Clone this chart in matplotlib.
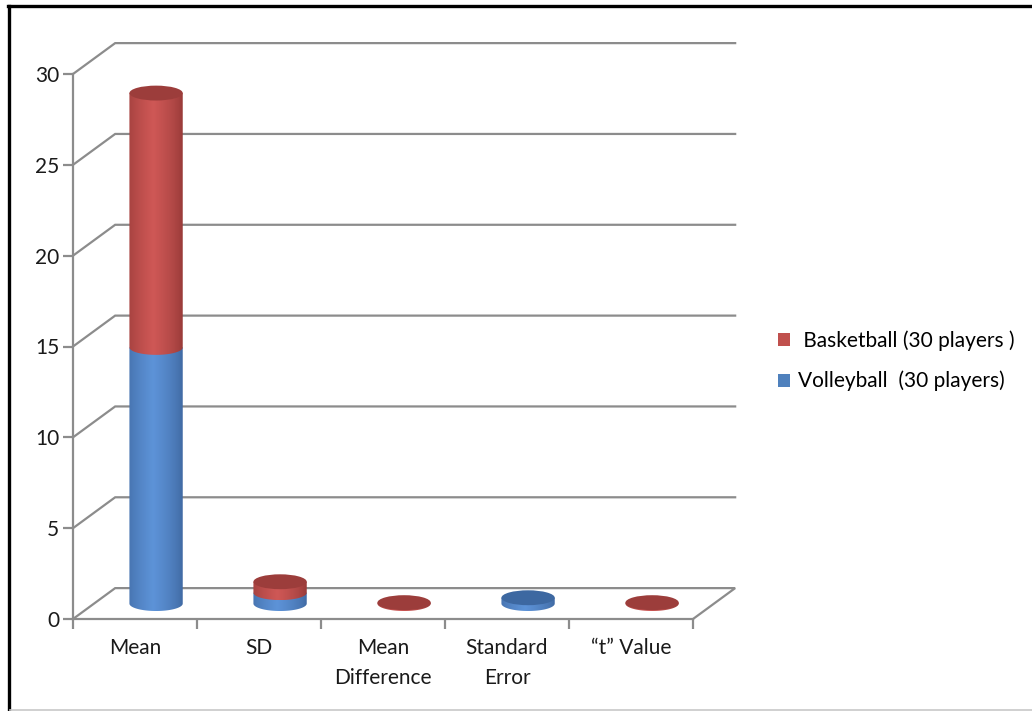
import numpy as np
import matplotlib
matplotlib.use('Agg')
import matplotlib.pyplot as plt
from matplotlib.patches import Ellipse, PathPatch, Patch
from matplotlib.path import Path
from matplotlib.lines import Line2D

plt.rcParams['font.family'] = ['Lato', 'DejaVu Sans']

categories = ['Mean', 'SD', 'Mean\nDifference', 'Standard\nError', '\u201ct\u201d Value']
volleyball = [14.1, 0.6, 0.0, 0.32, 0.0]
basketball = [14.0, 0.6, 0.05, 0.0, 0.05]
series_labels = [' Basketball (30 players )', 'Volleyball  (30 players)']
y_ticks = [0, 5, 10, 15, 20, 25, 30]

GRID = '#8c8c8c'
BLUE = ('#3a6198', '#5d93d8', '#3d68a1')   # dark edge, light centre, top face
RED = ('#8d3432', '#cf5856', '#9c3d3b')
FS = 15

W, H = 1032, 711
fig = plt.figure(figsize=(W / 100, H / 100), dpi=100)
ax = fig.add_axes([73 / W, (H - 619) / H, (693 - 73) / W, (619 - 74) / H])

# depth of the fake 3D box, in data units
DX, DY = 0.34, 1.7
cyl_w, ell_h = 0.43, 0.82
base = DY / 2

# back wall / floor gridlines
for v in y_ticks:
    xs = [-0.5, -0.5 + DX, 4.5 + DX]
    ys = [v, v + DY, v + DY]
    if v == 0:
        xs.append(4.5)
        ys.append(0)
    ax.plot(xs, ys, color=GRID, lw=1.6, clip_on=False, zorder=1,
            solid_joinstyle='miter')


def gradient(dark, light, n=80):
    d = np.array(matplotlib.colors.to_rgb(dark))
    l = np.array(matplotlib.colors.to_rgb(light))
    u = np.linspace(0, 1, n)
    t = np.clip(1 - np.abs(u - 0.45) / 0.58, 0, 1) ** 0.6
    return (d + (l - d) * t[:, None])[None, :, :]


def segment(xc, y0, y1, colors, z, top):
    dark, light, topc = colors
    th = np.linspace(np.pi, 2 * np.pi, 60)
    verts = [(xc + cyl_w / 2 * np.cos(a), y0 + ell_h / 2 * np.sin(a)) for a in th]
    verts += [(xc + cyl_w / 2, y1), (xc - cyl_w / 2, y1), verts[0]]
    codes = [Path.MOVETO] + [Path.LINETO] * (len(verts) - 2) + [Path.CLOSEPOLY]
    body = PathPatch(Path(verts, codes), facecolor='none', edgecolor='none', zorder=z)
    ax.add_patch(body)
    im = ax.imshow(gradient(dark, light),
                   extent=[xc - cyl_w / 2, xc + cyl_w / 2, y0 - ell_h / 2, y1 + ell_h / 2],
                   aspect='auto', zorder=z, interpolation='bilinear')
    im.set_clip_path(body)
    if top:
        ax.add_patch(Ellipse((xc, y1), cyl_w, ell_h, facecolor=topc,
                             edgecolor='none', zorder=z + 0.5))


for i in range(len(categories)):
    xc = i + DX / 2
    y = base
    stack = [(volleyball[i], BLUE), (basketball[i], RED)]
    stack = [s for s in stack if s[0] > 0]
    for k, (val, cols) in enumerate(stack):
        segment(xc, y, y + val, cols, 3 + k, k == len(stack) - 1)
        y += val

ax.set_xlim(-0.5, 4.5)
ax.set_ylim(0, 30)

for s in ['top', 'right']:
    ax.spines[s].set_visible(False)
for s in ['left', 'bottom']:
    ax.spines[s].set_color(GRID)
    ax.spines[s].set_linewidth(1.6)

ax.set_yticks(y_ticks)
ax.tick_params(axis='y', length=7, width=1.6, color=GRID, pad=3,
               labelsize=FS, labelcolor='#1a1a1a')
ax.set_xticks(range(len(categories)))
ax.set_xticklabels(categories)
ax.set_xticks(np.arange(-0.5, len(categories), 1), minor=True)
ax.tick_params(axis='x', which='major', length=0, pad=14,
               labelsize=FS, labelcolor='#1a1a1a')
ax.tick_params(axis='x', which='minor', length=7, width=1.6, color=GRID)
for t in ax.get_xticklabels():
    t.set_linespacing(1.6)
ax.set_facecolor('none')

handles = [Patch(facecolor='#c0504d'), Patch(facecolor='#4f81bd')]
fig.legend(handles, series_labels, loc='center left',
           bbox_to_anchor=(759 / W, 1 - 361 / H), frameon=False,
           fontsize=FS, handlelength=0.6, handleheight=0.6,
           handletextpad=0.35, labelspacing=0.95)

# chart frame
fig.add_artist(Line2D([8 / W, 1], [1 - 6 / H, 1 - 6 / H], color='black', lw=2.4,
                      transform=fig.transFigure))
fig.add_artist(Line2D([8.5 / W, 8.5 / W], [0, 1 - 6 / H], color='black', lw=2.4,
                      transform=fig.transFigure))
fig.add_artist(Line2D([10 / W, 1], [1.5 / H, 1.5 / H], color='#c8c8c8', lw=1.2,
                      transform=fig.transFigure))

fig.savefig('out.png', dpi=100)
